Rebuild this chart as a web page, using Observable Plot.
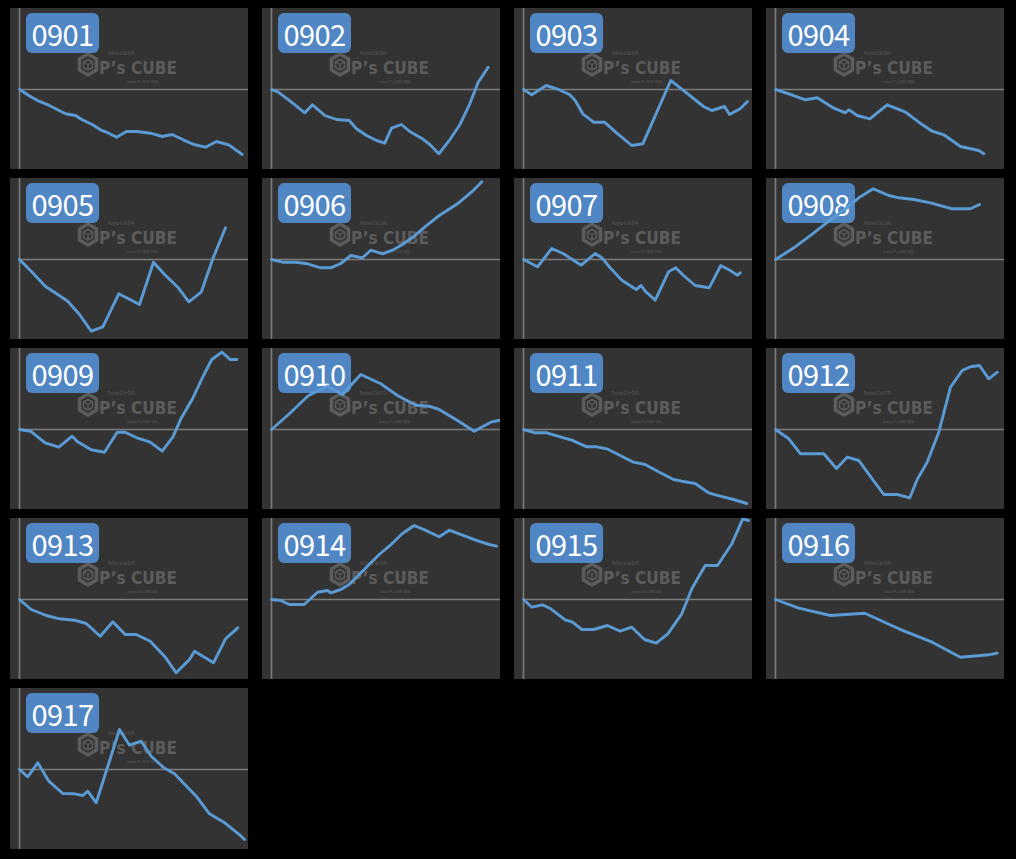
<!DOCTYPE html>
<html><head><meta charset="utf-8">
<script src="https://cdn.jsdelivr.net/npm/d3@7"></script>
<script src="https://cdn.jsdelivr.net/npm/@observablehq/plot@0.6"></script>
<style>
html,body{margin:0;padding:0;background:#000;}
#chart{position:relative;width:1016px;height:859px;background:#000;overflow:hidden;}
.panel{position:absolute;width:238px;height:161px;background:#333;overflow:hidden;}
.badge{position:absolute;left:16px;top:5px;width:73px;height:40px;border-radius:6px;background:#4f86c3;color:#fff;
  font:29px "Noto Sans CJK JP","Noto Sans",sans-serif;display:flex;align-items:center;justify-content:center;letter-spacing:-0.6px;line-height:40px;}
.wm{position:absolute;left:0;top:0;}
.plotwrap{position:absolute;left:0;top:0;}
</style></head><body><div id="chart"></div><script>
const labels = ["0901","0902","0903","0904","0905","0906","0907","0908","0909","0910","0911","0912","0913","0914","0915","0916","0917"];

const x0901 = [0,9.3,19.3,29.3,37.7,46,56,62.7,72.7,81,89.3,97,107,117.7,131,142.7,152.7,163.7,174.3,186,197,209.3,222.7];
const y0901 = [0,-6,-11.7,-15.7,-20,-24.3,-26,-30.3,-35,-40.3,-43.7,-47.7,-42,-42,-43.7,-47,-45,-50.3,-55,-57.7,-52,-55.3,-65];
const x0902 = [0,6.7,20,33.3,41,53.3,65,77.7,85,95,105,113.3,120,130,138.3,150,158.3,167.3,178.3,188.3,198.3,206.7,216.7];
const y0902 = [0,-2.7,-12.7,-23.3,-15.3,-26,-30,-31,-39.3,-46,-51,-53.7,-38.7,-35,-42,-48.7,-55,-64.3,-50.3,-35.3,-14.3,7.3,22.3];
const x0903 = [0,8.3,22.7,33.3,46,51.7,59.3,70,81,93.3,108.3,119.3,133.3,147.3,156.7,168.3,180,188.3,201,206,216.7,224];
const y0903 = [0,-5.3,4,0.7,-5,-11,-24.3,-32.7,-32.7,-43.7,-56,-54.3,-22.7,9,1.7,-7.7,-17,-21,-17,-25,-19.3,-12];
const x0904 = [0,13.3,30,41.7,58.3,70,73.3,81.7,94.3,111.7,130,143.3,156.7,168.3,185,203.3,208.3];
const y0904 = [0,-4.3,-10.3,-8.3,-18.7,-23.3,-20.3,-26,-29.3,-15.3,-22.7,-32.7,-41.7,-45.3,-57,-61,-64.3];
const x0905 = [0,11.7,25.7,36.7,48.3,60,71.7,83.3,99.3,120,134,145,158.3,169.3,181.7,193.3,206];
const y0905 = [0,-11.7,-26.7,-34,-41.7,-55,-71.7,-67.3,-34.3,-45,-2.7,-15,-27.7,-42.3,-32.7,0.7,31.7];
const x0906 = [0,11,24.3,36,49.3,59.3,69.3,79.3,91,99.3,111,121,131,142.7,154.3,167.7,186,201,210.3];
const y0906 = [0,-2.7,-2.7,-4.3,-8.3,-8.3,-4,4,1.7,9.3,5.7,9.3,15,23.3,33.3,44,55.7,68.3,77.7];
const x0907 = [0,14,28.3,40,57.7,71.7,78.3,86.7,98.3,112.7,117.7,121.7,131.7,145,152.3,160,171.7,185.7,197.3,206.7,214,216.7];
const y0907 = [0,-7.3,11,5.7,-5.7,6,1.7,-8.3,-20.7,-30,-26,-31.7,-40.7,-12.3,-8.3,-16,-26,-28.3,-6,-11,-15.7,-13.3];
const x0908 = [0,18.3,36.7,53.3,70,83.3,97.7,113.3,123.3,138.3,155,176.7,195,204];
const y0908 = [0,11.7,25.3,38.3,50.7,61.7,70.7,64,61.7,60,56.7,50.7,50.7,55];
const x0909 = [0,11,25.7,39.3,52.7,57.7,71.7,85,97.7,105.7,118.3,130.7,142.7,153.3,161.7,173.3,184,192.3,202.3,210.7,217.3];
const y0909 = [0,-1.7,-13.3,-17.7,-6.7,-12,-20.3,-22.7,-2.7,-2.7,-8.7,-12.7,-21.7,-7.7,11.3,31.3,54,70,77.3,70,70];
const x0910 = [0,17,37,56,71,89.3,109.3,126,144.3,157.7,167.7,186,202.7,219.3,228.3];
const y0910 = [0,15,34,43.3,35,55,45.7,34,24.3,23.3,20,9,-1.7,7.3,9.3];
const x0911 = [0,11.7,23.3,36.7,48.3,63.3,73.3,83.3,96.7,110,121.7,135,150,158.3,171.7,185,196.7,210,223.3];
const y0911 = [0,-3.3,-3.3,-7.3,-10.7,-17.3,-17.3,-19.3,-26,-32.7,-35,-42.3,-50,-51.7,-54,-63.3,-66.7,-70,-74];
const x0912 = [0,13.3,25,48.3,61,71.7,83.3,96,108.3,121.7,134.3,141.7,151.7,163.3,175,186.7,195,204,213.3,221.7];
const y0912 = [0,-9.3,-24.3,-24.3,-39,-27.7,-31,-48.3,-65,-65,-68.3,-50,-32.7,-2.7,42.3,59,62.7,64,50.7,57.3];
const x0913 = [0,11.7,26.7,40,55,66.7,80.7,93.3,105.7,116.7,130.7,145,156.7,170,175,194,206,218.3];
const y0913 = [0,-10,-16,-19.3,-20.7,-24,-36.7,-22.3,-35,-35,-41.7,-56.7,-73.3,-60,-51.7,-63.3,-39.3,-28.3];
const x0914 = [0,9.3,17.7,32.7,46,56,59.3,69.3,77.7,92.7,107.7,117.7,131,142.7,156,167.7,177.7,191,204.3,217.7,225];
const y0914 = [0,-1,-5,-5,7.3,9,6.7,10,15,30,45,53.3,66,74,68.3,62.7,69.3,64.3,59.3,55,53.3];
const x0915 = [0,8.3,19,27.3,41.7,49,58.3,70,84,96.7,108.3,121,132.7,144.3,158.3,168.3,181.7,194,208.3,219.3,225];
const y0915 = [0,-7.7,-5.3,-9.3,-20.3,-22.7,-30,-30,-26,-31.7,-27.7,-40,-43.7,-34.3,-14.3,10.7,34,34,55.7,80.7,79];
const x0916 = [0,23.3,55,89.3,123.3,156.7,185,213.3,221.7];
const y0916 = [0,-8.7,-16,-13.7,-29.3,-42.7,-57.7,-55.3,-53.7];
const x0917 = [0,8.3,18.3,29.3,43.3,55,63.3,68.3,76.7,100,110,121.7,131.7,144.3,155,176.7,190,204.3,221.7,225];
const y0917 = [0,-7.3,6.7,-11.7,-24,-24.3,-26,-21.7,-33.3,40,24.3,28.3,13.3,1.7,-4.3,-26.7,-44.3,-52.7,-66.7,-70];

const xs = [x0901,x0902,x0903,x0904,x0905,x0906,x0907,x0908,x0909,x0910,x0911,x0912,x0913,x0914,x0915,x0916,x0917];
const ys = [y0901,y0902,y0903,y0904,y0905,y0906,y0907,y0908,y0909,y0910,y0911,y0912,y0913,y0914,y0915,y0916,y0917];

const wmSvg = `<svg class="wm" width="238" height="161" xmlns="http://www.w3.org/2000/svg">
 <g fill="none" stroke="#5c5c5c" stroke-linejoin="round">
  <polygon points="78,46 86.5,51 86.5,62 78,67 69.5,62 69.5,51" stroke-width="3.6"/>
  <polygon points="78,51.5 82.5,54 82.5,59.5 78,62 73.5,59.5 73.5,54" stroke-width="1.5"/>
  <polyline points="73.5,54 78,56.5 82.5,54" stroke-width="1.3"/>
  <line x1="78" y1="56.5" x2="78" y2="62" stroke-width="1.3"/>
 </g>
 <g fill="#5c5c5c">
  <text x="98" y="46.5" font-size="5" font-family="Lato, sans-serif" textLength="27" lengthAdjust="spacingAndGlyphs">Pachinko &amp; Slot DATA</text>
  <text x="89" y="66" font-size="18" font-weight="bold" font-family="'DejaVu Sans', sans-serif" textLength="78" lengthAdjust="spacingAndGlyphs">P’s CUBE</text>
  <text x="117" y="74.5" font-size="4.4" font-family="Lato, sans-serif" textLength="31" lengthAdjust="spacingAndGlyphs">website P’s CUBE DATA</text>
 </g>
</svg>`;

const chart = document.getElementById("chart");
labels.forEach((lab, i) => {
  const c = i % 4, r = Math.floor(i / 4);
  const panel = document.createElement("div");
  panel.className = "panel";
  panel.style.left = (10 + 252 * c) + "px";
  panel.style.top = (8 + 170 * r) + "px";
  panel.innerHTML = wmSvg;
  const badge = document.createElement("div");
  badge.className = "badge";
  badge.textContent = lab;
  panel.appendChild(badge);
  const data = xs[i].map((x, k) => ({x, y: ys[i][k]}));
  const svg = Plot.plot({
    width: 238, height: 161,
    marginLeft: 9, marginRight: 0, marginTop: 0, marginBottom: 0,
    x: {domain: [0, 229], axis: null},
    y: {domain: [-80, 81], axis: null},
    style: {background: "transparent", overflow: "visible"},
    marks: [
      Plot.ruleY([0], {stroke: "#7d7d7d", strokeWidth: 1.6}),
      Plot.ruleX([0], {stroke: "#7d7d7d", strokeWidth: 1.6}),
      Plot.line(data, {x: "x", y: "y", stroke: "#5b9bd5", strokeWidth: 2.9})
    ]
  });
  const wrap = document.createElement("div");
  wrap.className = "plotwrap";
  wrap.appendChild(svg);
  panel.appendChild(wrap);
  chart.appendChild(panel);
});
</script></body></html>
